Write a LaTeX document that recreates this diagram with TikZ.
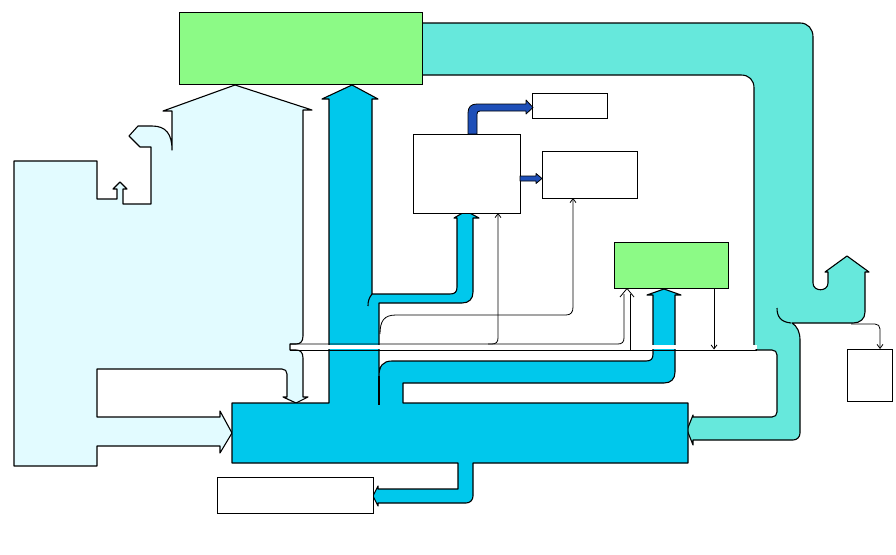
\documentclass[tikz,border=0pt]{standalone}
\usetikzlibrary{arrows.meta}
\definecolor{lcyan}{HTML}{E2FBFF}
\definecolor{bflow}{HTML}{00C8EC}
\definecolor{turq}{HTML}{66E8DC}
\definecolor{gbox}{HTML}{8CFA86}
\definecolor{dblue}{HTML}{1E4FB8}
\tikzset{
  ol/.style={draw=black, line width=1.1pt, line join=round},
  thinl/.style={draw=black, line width=0.8pt},
  tip/.style={-{Straight Barb[length=4pt,width=6pt]}},
  box/.style={draw=black, line width=1pt, inner sep=0pt, outer sep=0pt, anchor=north west},
}
\begin{document}
\begin{tikzpicture}[x=1pt,y=-1pt]
\useasboundingbox (0,0) rectangle (896,554);
% turquoise flow
\filldraw[ol, fill=turq] (422,23) -- (800,23) .. controls (808,23) and (813,29) .. (813,37)
  -- (813,283) .. controls (813,292) and (828,292) .. (828,283) -- (828,272) -- (825,272)
  -- (847,256) -- (869,272) -- (865,272) -- (865,312) .. controls (865,319) and (860,323) .. (853,323)
  -- (792,323) .. controls (797,326) and (800,332) .. (800,340) -- (800,433)
  .. controls (800,437) and (797,440) .. (793,440) -- (693,440) -- (693,445) -- (687,430)
  -- (693,415) -- (693,417) -- (772,417) .. controls (775,417) and (777,415) .. (777,412)
  -- (777,355) .. controls (777,352) and (775,350) .. (772,350) -- (757,350) -- (754,347)
  -- (754,88) .. controls (754,80) and (749,75) .. (741,75) -- (422,75) -- cycle;
\draw[ol] (777,308) .. controls (777,317) and (781,322) .. (791,323);
% light cyan flow
\filldraw[ol, fill=lcyan] (172,150) -- (172,111) -- (163,111) -- (235,85) -- (312,110) -- (303,110)
  -- (303,336) .. controls (303,342) and (300,344) .. (296,344) -- (290,344) -- (290,350) -- (296,350)
  .. controls (300,350) and (303,352) .. (303,358) -- (303,397) -- (308,397) -- (296,403) -- (283,397)
  -- (287,397) -- (287,374) .. controls (287,371) and (285,369) .. (282,369) -- (97,369) -- (97,417)
  -- (220,417) -- (220,411) -- (232,433) -- (220,453) -- (220,446) -- (97,446) -- (97,466) -- (14,466)
  -- (14,161) -- (97,161) -- (97,199) -- (117,199) -- (117,189) -- (113,189) -- (120,182) -- (127,189)
  -- (123,189) -- (123,204) -- (151,204) -- (151,147) -- (140,147) -- (129,136) -- (138,126) -- (152,126)
  .. controls (166,126) and (172,134) .. (172,150) -- cycle;
% blue flow
\filldraw[ol, fill=bflow] (232,403) -- (329,403) -- (329,99) -- (322,99) -- (352,85) -- (378,99) -- (372,99)
  -- (372,294) -- (450,294) .. controls (455,294) and (457,292) .. (457,287) -- (457,218) -- (454,218)
  -- (466,211) -- (479,218) -- (473,218) -- (473,292) .. controls (473,299) and (469,303) .. (462,303)
  -- (379,303) -- (379,376) .. controls (379,366) and (383,361) .. (392,361) -- (646,361)
  .. controls (651,361) and (653,359) .. (653,354) -- (653,295) -- (647,295) -- (664,289) -- (681,295)
  -- (675,295) -- (675,372) .. controls (675,379) and (671,383) .. (664,383) -- (403,383) -- (403,403)
  -- (688,403) -- (688,463) -- (473,463) -- (473,496) .. controls (473,500) and (470,503) .. (466,503)
  -- (378,503) -- (378,506) -- (373,496) -- (378,486) -- (378,489) -- (458,489) -- (458,463)
  -- (232,463) -- cycle;
\draw[ol] (379,376) -- (379,405);
\draw[ol] (372,294) .. controls (369,298) and (368,301) .. (368,306);
% thin white band
\fill[white] (291,344.6) rectangle (757,349.4);
\draw[thinl] (290,344) -- (618,344) .. controls (622,344) and (624,342) .. (624,338) -- (624,294);
\draw[thinl] (290,350) -- (757,350);
\draw[thinl] (630,350) -- (630,294);
\draw[thinl] (620,297) -- (627,288.5) -- (634,297);
% boxes
\node[box, fill=gbox, minimum width=243pt, minimum height=72pt] (gtop) at (179,12) {};
\node[box, fill=gbox, minimum width=114pt, minimum height=46pt] (gsmall) at (614,242) {};
\node[box, fill=white, minimum width=107pt, minimum height=79pt] (wc) at (413,134) {};
\node[box, fill=white, minimum width=75pt, minimum height=25pt] (wtr) at (532,93) {};
\node[box, fill=white, minimum width=95pt, minimum height=47pt] (wr) at (542,151) {};
\node[box, fill=white, minimum width=45pt, minimum height=52pt] (wsm) at (847,349) {};
\node[box, fill=white, minimum width=156pt, minimum height=36pt] (wbot) at (217,477) {};
% thin arrows
\draw[thinl, tip] (gsmall.south -| 714,0) -- (714,349.5);
\draw[thinl, tip] (488,344) -- (492,344) .. controls (496,344) and (498,342) .. (498,338) -- (wc.south -| 498,0);
\draw[thinl, tip] (380,334) .. controls (380,321) and (384,315) .. (396,315) -- (566,315)
  .. controls (571,315) and (573,312) .. (573,307) -- (wr.south -| 573,0);
\draw[thinl, tip] (851,324) -- (875,324) .. controls (878,324) and (880,326) .. (880,329) -- (wsm.north -| 880,0);
% dark blue arrows
\filldraw[ol, line width=0.8pt, fill=dblue] (468,134) -- (468,113) .. controls (468,107) and (471,104) .. (477,104)
  -- (526,104) -- (526,100) -- (533,107.5) -- (526,114) -- (526,111) -- (480,111)
  .. controls (478,111) and (477,112) .. (477,114) -- (477,134) -- cycle;
\filldraw[ol, line width=0.8pt, fill=dblue] (520,176) -- (536,176) -- (536,173.5) -- (542,178.5) -- (536,183.5) -- (536,181) -- (520,181) -- cycle;
\end{tikzpicture}
\end{document}
